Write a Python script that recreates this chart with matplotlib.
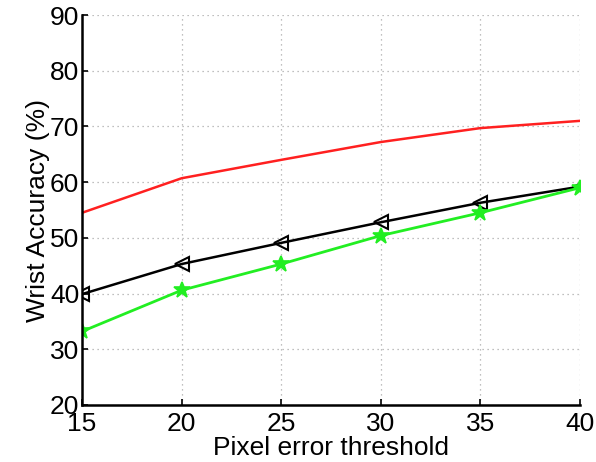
import matplotlib.pyplot as plt

plt.rcParams['font.family'] = ['Liberation Sans', 'DejaVu Sans']

thresholds = [15, 20, 25, 30, 35, 40]
red_acc = [54.5, 60.7, 64.0, 67.2, 69.7, 71.0]
black_acc = [39.9, 45.3, 49.1, 52.8, 56.3, 59.2]
green_acc = [33.2, 40.6, 45.3, 50.4, 54.5, 59.0]

fig = plt.figure(figsize=(5.96, 4.62), dpi=100)
ax = fig.add_axes([82 / 596, 57 / 462, 498 / 596, 390 / 462])

ax.plot(thresholds, red_acc, color='#ff2020', lw=1.8)
ax.plot(thresholds, black_acc, color='black', lw=1.8, marker='<',
        markersize=10, markerfacecolor='none', markeredgewidth=1.5)
ax.plot(thresholds, green_acc, color='#22ee22', lw=2.0, marker='*',
        markersize=12, markeredgewidth=1.2)

ax.set_xlim(15, 40)
ax.set_ylim(20, 90)
ax.set_xticks(thresholds)
ax.set_yticks(range(20, 91, 10))
ax.grid(True, color='#aaaaaa', linestyle=(0, (1, 3)), lw=0.9)
ax.spines['top'].set_visible(False)
ax.spines['right'].set_visible(False)
ax.spines['left'].set_linewidth(1.8)
ax.spines['bottom'].set_linewidth(1.8)
ax.tick_params(direction='in', length=4, width=1.2, labelsize=19)
ax.tick_params(axis='x', pad=5)
ax.tick_params(axis='y', pad=2)
ax.set_xlabel('Pixel error threshold', fontsize=19, labelpad=0)
ax.set_ylabel('Wrist Accuracy (%)', fontsize=19, labelpad=0)

fig.savefig('out.png', dpi=100)
